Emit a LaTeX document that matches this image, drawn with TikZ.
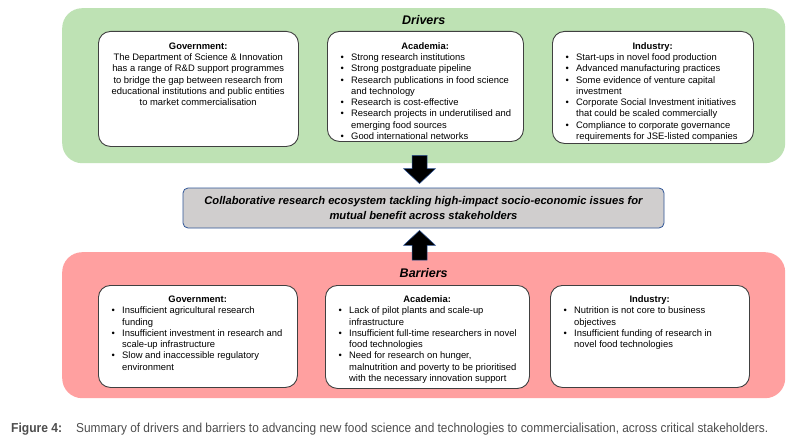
\documentclass[tikz,border=0pt]{standalone}
\usepackage{fontspec}
\setmainfont{Liberation Sans}
\usepackage{graphicx}
\usetikzlibrary{calc}
\definecolor{drvgreen}{RGB}{190,226,180}
\definecolor{barred}{RGB}{255,160,160}
\definecolor{ctrgray}{RGB}{208,206,206}
\definecolor{ctrblue}{RGB}{47,85,151}
\definecolor{capgray}{RGB}{77,77,77}
\newcommand{\hd}[1]{{\centering\textbf{#1}\par}}
\newcommand{\itm}[1]{{\leftskip=13.5pt\rightskip=0pt plus 1fil\parfillskip=0pt plus 1fil\hangindent=10.5pt\hangafter=1\noindent\makebox[10.5pt][l]{\textbullet}#1\par}}
\newcommand{\boxtext}[2]{\parbox[t]{#1}{\fontsize{9.4}{11.25}\selectfont #2}}
\tikzset{
  panel/.style={rounded corners=20pt, draw=none, inner sep=0, anchor=north west},
  wbox/.style={rounded corners=12pt, draw=black!75, line width=0.9pt, fill=white, inner sep=0, anchor=north west},
  ttl/.style={font=\fontsize{12.5}{14}\selectfont\bfseries\itshape, inner sep=0, anchor=base},
  btxt/.style={inner sep=0, anchor=base west},
  ctrbox/.style={rounded corners=5pt, draw=ctrblue, line width=0.8pt, fill=ctrgray, inner sep=0, align=center,
    font=\fontsize{11.2}{15}\selectfont\bfseries\itshape, minimum width=481pt, minimum height=40pt},
  blockarrow/.style={fill=black, draw=ctrblue, line width=0.5pt, line join=miter}
}
\begin{document}
\begin{tikzpicture}[x=1pt, y=-1pt]
\useasboundingbox (0,0) rectangle (809,444);
\fill[white] (0,0) rectangle (809,444);

% Drivers panel
\node[panel, fill=drvgreen, minimum width=723pt, minimum height=155pt] (drv) at (62,8) {};
\node[ttl] (drvt) at ($(drv.north)+(0,17)$) {Drivers};

\node[wbox, minimum width=200pt, minimum height=115pt] (dg) at (98,31) {};
\node[btxt] (dgt) at ($(dg.north west)+(0,18.5)$) {\boxtext{200pt}{%
  \hd{Government:}%
  {\centering The Department of Science \& Innovation\\
  has a range of R\&D support programmes\\
  to bridge the gap between research from\\
  educational institutions and public entities\\
  to market commercialisation\par}}};

\node[wbox, minimum width=196pt, minimum height=110pt] (da) at (327,31) {};
\node[btxt] (dat) at ($(da.north west)+(0,18.5)$) {\boxtext{196pt}{%
  \hd{Academia:}%
  \itm{Strong research institutions}%
  \itm{Strong postgraduate pipeline}%
  \itm{Research publications in food science\\and technology}%
  \itm{Research is cost-effective}%
  \itm{Research projects in underutilised and\\emerging food sources}%
  \itm{Good international networks}}};

\node[wbox, minimum width=201pt, minimum height=112pt] (di) at (552,31) {};
\node[btxt] (dit) at ($(di.north west)+(0,18.5)$) {\boxtext{201pt}{%
  \hd{Industry:}%
  \itm{Start-ups in novel food production}%
  \itm{Advanced manufacturing practices}%
  \itm{Some evidence of venture capital\\investment}%
  \itm{Corporate Social Investment initiatives\\that could be scaled commercially}%
  \itm{Compliance to corporate governance\\requirements for JSE-listed companies}}};

% Central box
\node[ctrbox] (ctr) at (423.5,208) {Collaborative research ecosystem tackling high-impact socio-economic issues for\\mutual benefit across stakeholders};

% Barriers panel
\node[panel, fill=barred, minimum width=723pt, minimum height=146pt] (bar) at (62,252) {};
\node[ttl] (bart) at ($(bar.north)+(0,25)$) {Barriers};

\node[wbox, minimum width=199pt, minimum height=102pt] (bg) at (98,285) {};
\node[btxt] (bgt) at ($(bg.north west)+(0,17.5)$) {\boxtext{199pt}{%
  \hd{Government:}%
  \itm{Insufficient agricultural research\\funding}%
  \itm{Insufficient investment in research and\\scale-up infrastructure}%
  \itm{Slow and inaccessible regulatory\\environment}}};

\node[wbox, minimum width=204pt, minimum height=103pt] (ba) at (325,285) {};
\node[btxt] (bat) at ($(ba.north west)+(0,17.5)$) {\boxtext{204pt}{%
  \hd{Academia:}%
  \itm{Lack of pilot plants and scale-up\\infrastructure}%
  \itm{Insufficient full-time researchers in novel\\food technologies}%
  \itm{Need for research on hunger,\\malnutrition and poverty to be prioritised\\with the necessary innovation support}}};

\node[wbox, minimum width=199pt, minimum height=102pt] (bi) at (550,285) {};
\node[btxt] (bit) at ($(bi.north west)+(0,17.5)$) {\boxtext{199pt}{%
  \hd{Industry:}%
  \itm{Nutrition is not core to business\\objectives}%
  \itm{Insufficient funding of research in\\novel food technologies}}};

% Block arrows
\coordinate (dtop) at ($(drv.south)+(-4,-8)$);
\coordinate (dtip) at ($(ctr.north)+(-4,-4)$);
\draw[blockarrow] ($(dtop)+(-7.5,0)$) -- ($(dtop)+(7.5,0)$) -- ($(dtip)+(7.5,-15)$) -- ($(dtip)+(16,-15)$) -- (dtip) -- ($(dtip)+(-16,-15)$) -- ($(dtip)+(-7.5,-15)$) -- cycle;
\coordinate (ubot) at ($(bar.north)+(-4,8)$);
\coordinate (utip) at ($(ctr.south)+(-4,2)$);
\draw[blockarrow] ($(ubot)+(-7.5,0)$) -- ($(ubot)+(7.5,0)$) -- ($(utip)+(7.5,15)$) -- ($(utip)+(16,15)$) -- (utip) -- ($(utip)+(-16,15)$) -- ($(utip)+(-7.5,15)$) -- cycle;

% Caption
\node[btxt, text=capgray] (capl) at (11,432) {\resizebox{51pt}{\height}{\fontsize{13}{15}\selectfont\bfseries Figure 4:}};
\node[btxt, text=capgray] (capt) at (76,432) {\resizebox{692pt}{\height}{\fontsize{13}{15}\selectfont Summary of drivers and barriers to advancing new food science and technologies to commercialisation, across critical stakeholders.}};
\end{tikzpicture}
\end{document}
